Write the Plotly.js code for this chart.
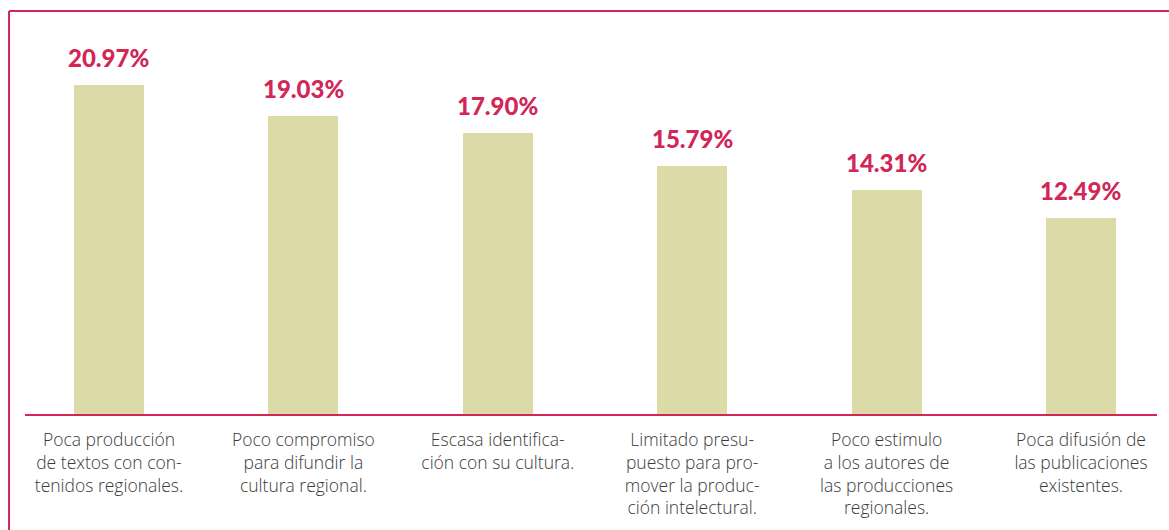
<!DOCTYPE html>
<html>
<head>
<meta charset="utf-8">
<script src="https://cdn.plot.ly/plotly-3.0.1.min.js"></script>
<style>
html,body{margin:0;padding:0;background:#fff;}
#chart{width:1169px;height:530px;}
</style>
</head>
<body>
<div id="chart"></div>
<script>
const categories = [
  "Poca producción<br>de textos con con-<br>tenidos regionales.",
  "Poco compromiso<br>para difundir la<br>cultura regional.",
  "Escasa identifica-<br>ción con su cultura.",
  "Limitado presu-<br>puesto para pro-<br>mover la produc-<br>ción intelectural.",
  "Poco estimulo<br>a los autores de<br>las producciones<br>regionales.",
  "Poca difusión de<br>las publicaciones<br>existentes."
];
const values = [20.97, 19.03, 17.90, 15.79, 14.31, 12.49];
const valueLabels = ["20.97%", "19.03%", "17.90%", "15.79%", "14.31%", "12.49%"];

const RED = "#d02756";
const BAR = "#dcdba7";

const xIdx = categories.map((c, i) => i);

const trace = {
  type: "bar",
  x: xIdx,
  y: values,
  width: 0.36,
  marker: {color: BAR, line: {width: 0}},
  hoverinfo: "skip"
};

const annotations = values.map((v, i) => ({
  x: i, y: v, xref: "x", yref: "y",
  text: valueLabels[i],
  showarrow: false,
  yanchor: "bottom",
  yshift: 11,
  font: {family: "Lato, sans-serif", size: 24, color: RED, weight: 900}
}));

const layout = {
  width: 1169, height: 530,
  margin: {l: 25, r: 12, t: 40, b: 116},
  paper_bgcolor: "#fff",
  plot_bgcolor: "#fff",
  showlegend: false,
  bargap: 0,
  xaxis: {
    range: [-0.432, 5.391],
    tickmode: "array",
    tickvals: xIdx,
    ticktext: categories,
    showline: true,
    linecolor: RED,
    linewidth: 2,
    showgrid: false,
    zeroline: false,
    ticks: "outside",
    ticklen: 9,
    tickcolor: "rgba(0,0,0,0)",
    tickfont: {family: "'Open Sans', sans-serif", size: 17.5, color: "#3a3a3a", weight: 300},
    fixedrange: true
  },
  yaxis: {
    range: [0, 23.85],
    showline: false,
    showgrid: false,
    zeroline: false,
    showticklabels: false,
    ticks: "",
    fixedrange: true
  },
  annotations: annotations,
  shapes: [
    {type: "line", xref: "paper", yref: "paper", x0: -0.0141, x1: 1.02, y0: 1.0775, y1: 1.0775,
     line: {color: RED, width: 2}},
    {type: "line", xref: "paper", yref: "paper", x0: -0.0141, x1: -0.0141, y0: 1.0775, y1: -0.32,
     line: {color: RED, width: 2}}
  ]
};

Plotly.newPlot("chart", [trace], layout, {displayModeBar: false, staticPlot: true});
</script>
</body>
</html>
